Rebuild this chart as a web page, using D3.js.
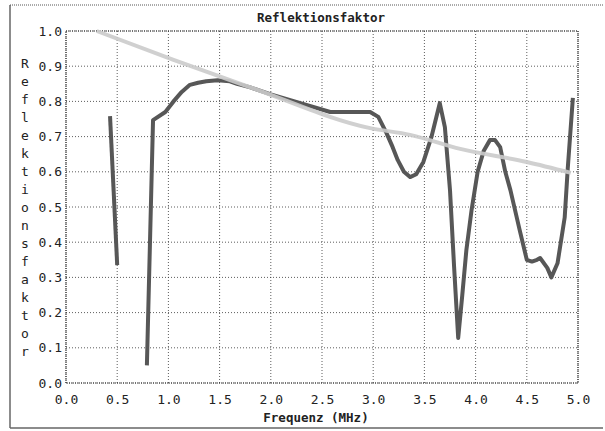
<!DOCTYPE html>
<html><head><meta charset="utf-8">
<script src="https://cdn.jsdelivr.net/npm/d3@7"></script>
<style>
html,body{margin:0;padding:0;background:#fff;}
text{font-family:"DejaVu Sans Mono","Liberation Mono",monospace;fill:#222;}
</style></head>
<body>
<svg id="c" width="605" height="431"></svg>
<script>
const title = "Reflektionsfaktor";
const xTitle = "Frequenz (MHz)";
const yTitle = "Reflektionsfaktor";
const xTicks = [0,0.5,1.0,1.5,2.0,2.5,3.0,3.5,4.0,4.5,5.0];
const yTicks = [0,0.1,0.2,0.3,0.4,0.5,0.6,0.7,0.8,0.9,1.0];

// reference (light) curve
const refFreq = [0.3,1.05,1.8,2.97,3.36,3.85,4.5,4.93];
const refVal  = [1.0,0.918,0.84,0.724,0.705,0.665,0.628,0.597];

// measured segment 1
const seg1Freq = [0.43,0.50];
const seg1Val  = [0.758,0.335];

// measured segment 2
const seg2Freq = [0.79,0.85,0.97,1.05,1.13,1.21,1.29,1.37,1.48,1.6,1.67,1.8,2.0,2.29,2.58,2.97,3.05,3.13,3.19,3.24,3.3,3.36,3.42,3.49,3.57,3.65,3.70,3.75,3.79,3.83,3.87,3.91,3.96,4.02,4.08,4.14,4.19,4.24,4.29,4.34,4.43,4.5,4.55,4.6,4.63,4.7,4.74,4.8,4.87,4.9,4.95];
const seg2Val  = [0.05,0.747,0.77,0.80,0.827,0.847,0.853,0.857,0.86,0.857,0.85,0.84,0.82,0.795,0.77,0.77,0.756,0.71,0.67,0.633,0.60,0.585,0.593,0.628,0.70,0.795,0.727,0.548,0.33,0.128,0.25,0.378,0.49,0.60,0.66,0.69,0.69,0.67,0.60,0.548,0.435,0.35,0.345,0.35,0.355,0.327,0.30,0.34,0.47,0.61,0.81];

const svg = d3.select("#c");
const L=66,R=578,T=31,B=383;
const x = d3.scaleLinear().domain([0,5]).range([L,R]);
const y = d3.scaleLinear().domain([0,1]).range([B,T]);

// outer frame
svg.append("line").attr("x1",10).attr("x2",10).attr("y1",5).attr("y2",428).attr("stroke","#666").attr("stroke-width",1.5);
svg.append("line").attr("x1",10).attr("x2",603).attr("y1",5).attr("y2",5).attr("stroke","#555").attr("stroke-dasharray","1,1");
svg.append("line").attr("x1",10).attr("x2",603).attr("y1",428).attr("y2",428).attr("stroke","#666").attr("stroke-width",1.5);

// grid
const g = svg.append("g");
g.selectAll("line.vx").data(xTicks).enter().append("line")
  .attr("x1",d=>x(d)).attr("x2",d=>x(d)).attr("y1",T).attr("y2",B)
  .attr("stroke","#333").attr("stroke-width",0.8).attr("stroke-dasharray","1,2");
g.selectAll("line.hy").data(yTicks).enter().append("line")
  .attr("y1",d=>y(d)).attr("y2",d=>y(d)).attr("x1",L).attr("x2",R)
  .attr("stroke","#333").attr("stroke-width",0.8).attr("stroke-dasharray","1,2");
svg.append("rect").attr("x",L).attr("y",T).attr("width",R-L).attr("height",B-T)
  .attr("fill","none").attr("stroke","#333").attr("stroke-width",1.2).attr("stroke-dasharray","1,1");

// axes via d3 axis (labels only)
const xAxis = svg.append("g").attr("transform",`translate(0,${B})`)
  .call(d3.axisBottom(x).tickValues(xTicks).tickFormat(d3.format(".1f")).tickSize(0).tickPadding(12));
const yAxis = svg.append("g").attr("transform",`translate(${L},0)`)
  .call(d3.axisLeft(y).tickValues(yTicks).tickFormat(d3.format(".1f")).tickSize(0).tickPadding(4));
[xAxis,yAxis].forEach(a=>{a.select(".domain").remove();a.selectAll("text").style("font-size","13px").style("font-family","'DejaVu Sans Mono',monospace").attr("fill","#333");});

const line = d3.line().x(d=>x(d[0])).y(d=>y(d[1])).curve(d3.curveMonotoneX);
const lineLin = d3.line().x(d=>x(d[0])).y(d=>y(d[1]));
const s1 = seg1Freq.map((f,i)=>[f,seg1Val[i]]);
const s2 = seg2Freq.map((f,i)=>[f,seg2Val[i]]);
const rf = refFreq.map((f,i)=>[f,refVal[i]]);

svg.append("path").attr("d",lineLin(s1)).attr("fill","none").attr("stroke","#575757").attr("stroke-width",4);
svg.append("path").attr("d",lineLin(s2))
  .attr("fill","none").attr("stroke","#575757").attr("stroke-width",4).attr("stroke-linejoin","round");
svg.append("path").attr("d",line(rf)).attr("fill","none").attr("stroke","#cbcbcb").attr("stroke-width",4).attr("opacity",0.9);

// titles
svg.append("text").attr("x",321).attr("y",22).attr("text-anchor","middle")
  .style("font-size","12.5px").style("font-weight","bold").text(title);
svg.append("text").attr("x",316).attr("y",422).attr("text-anchor","middle")
  .style("font-size","12.5px").style("font-weight","bold").text(xTitle);
const letters = yTitle.split("");
svg.append("g").selectAll("text").data(letters).enter().append("text")
  .attr("x",25).attr("y",(d,i)=>63+i*18.06+4.5).attr("text-anchor","middle")
  .style("font-size","13px").text(d=>d);
</script>
</body></html>
